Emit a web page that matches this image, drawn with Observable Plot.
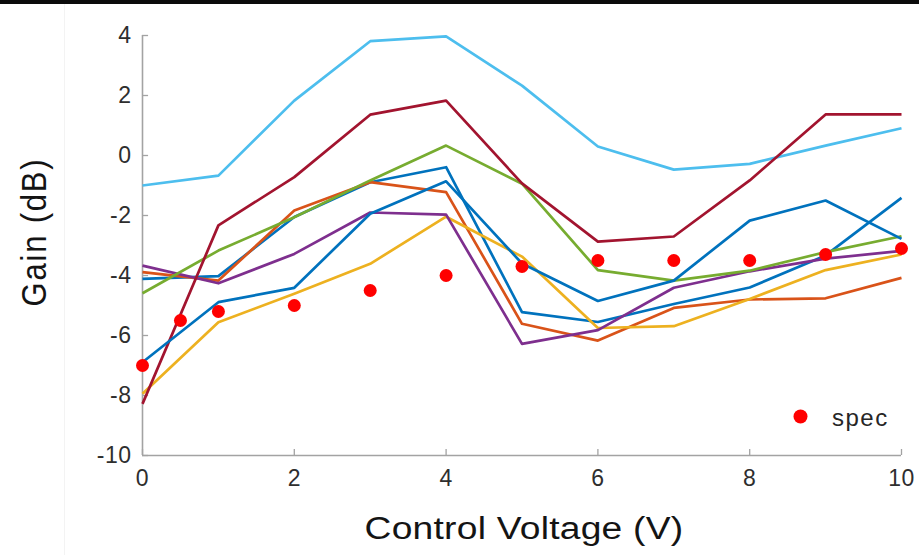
<!DOCTYPE html>
<html>
<head>
<meta charset="utf-8">
<script src="https://cdn.jsdelivr.net/npm/d3@7"></script>
<script src="https://cdn.jsdelivr.net/npm/@observablehq/plot@0.6"></script>
<style>
  html, body { margin: 0; padding: 0; background: #fff; }
  #wrap { position: relative; width: 919px; height: 555px; background: #fff; overflow: hidden;
          font-family: "Liberation Sans", Arial, Helvetica, sans-serif; }
  .lbl { position: absolute; white-space: nowrap; color: #141414; line-height: 1.12; }
</style>
</head>
<body>
<div id="wrap">
  <div style="position:absolute;left:0;top:0;width:919px;height:4px;background:#0b0b0b"></div>
  <div style="position:absolute;left:64px;top:4px;width:1px;height:551px;background:#f3f3f3"></div>
  <div id="chart" style="position:absolute;left:0;top:4px"></div>
  <div class="lbl" style="left:35px;top:232px;transform:translate(-50%,-50%) rotate(-90deg) scaleY(1.12);font-size:31px;letter-spacing:1.8px">Gain (dB)</div>
  <div class="lbl" style="left:524px;top:529px;transform:translate(-50%,-50%) scaleX(1.2);font-size:31px;letter-spacing:0.2px">Control Voltage (V)</div>
  <div id="legend" class="lbl" style="left:0;top:0;width:0;height:0"></div>
</div>
<script>
// ---- data ----
const voltage = [0, 1, 2, 3, 4, 5, 6, 7, 8, 9, 10];
const seriesColors = ["#0072BD", "#D95319", "#EDB120", "#7E2F8E", "#77AC30", "#4DBEEE", "#A2142F", "#0072BD"];
const blueA     = [-4.11, -4.02, -2.05, -0.89, -0.39, -5.22, -5.55, -4.95, -4.40, -3.33, -1.41];
const orange    = [-3.89, -4.17, -1.83, -0.89, -1.22, -5.61, -6.17, -5.08, -4.80, -4.76, -4.08];
const yellow    = [-7.94, -5.56, -4.61, -3.61, -2.04, -3.37, -5.75, -5.69, -4.78, -3.82, -3.30];
const purple    = [-3.67, -4.26, -3.28, -1.90, -1.97, -6.28, -5.82, -4.41, -3.86, -3.44, -3.18];
const green     = [-4.59, -3.17, -2.06, -0.83, 0.33, -0.94, -3.82, -4.17, -3.84, -3.22, -2.69];
const lightBlue = [-1.00, -0.67, 1.83, 3.81, 3.97, 2.33, 0.30, -0.47, -0.28, 0.33, 0.91];
const darkRed   = [-8.28, -2.33, -0.72, 1.36, 1.83, -0.93, -2.87, -2.70, -0.83, 1.37, 1.37];
const blueB     = [-6.89, -4.89, -4.41, -1.94, -0.86, -3.60, -4.85, -4.17, -2.17, -1.50, -2.78];
const seriesList = [blueA, orange, yellow, purple, green, lightBlue, darkRed, blueB];

const specVoltage = [0, 0.5, 1, 2, 3, 4, 5, 6, 7, 8, 9, 10];
const specGain    = [-7.0, -5.5, -5.2, -5.0, -4.5, -4.0, -3.7, -3.5, -3.5, -3.5, -3.3, -3.1];
const specLabel = "spec";

const xTicks = [0, 2, 4, 6, 8, 10];
const yTicks = [-10, -8, -6, -4, -2, 0, 2, 4];

// ---- tables ----
const rows = seriesList.flatMap((vals, i) => vals.map((g, j) => ({v: voltage[j], g, s: i, c: seriesColors[i]})));
const spec = specVoltage.map((v, i) => ({v, g: specGain[i]}));

const axisGray = "#a3a3a3";
const textGray = "#2e2e2e";
const font = '"Liberation Sans", Arial, Helvetica, sans-serif';

const chart = Plot.plot({
  width: 919,
  height: 551,
  marginLeft: 142,
  marginRight: 18,
  marginTop: 31,
  marginBottom: 100,
  style: {fontFamily: font, background: "transparent", overflow: "visible"},
  x: {domain: [0, 10]},
  y: {domain: [-10, 4]},
  marks: [
    Plot.ruleX([0], {stroke: axisGray, strokeWidth: 1.6}),
    Plot.ruleY([-10], {stroke: axisGray, strokeWidth: 1.6}),
    Plot.ruleX(xTicks, {y1: -10, y2: -9.8, stroke: axisGray, strokeWidth: 1.3}),
    Plot.ruleY(yTicks, {x1: 0, x2: 0.08, stroke: axisGray, strokeWidth: 1.3}),
    Plot.axisX({ticks: xTicks, tickSize: 0, tickPadding: 14, tickFormat: d => String(d),
                fontSize: 23, fill: textGray, label: null}),
    Plot.axisY({ticks: yTicks, tickSize: 0, tickPadding: 11, tickFormat: d => String(d),
                fontSize: 23, fill: textGray, label: null}),
    Plot.line(rows, {x: "v", y: "g", z: "s", stroke: "c", strokeWidth: 2.7,
                     strokeLinejoin: "round", strokeLinecap: "butt"}),
    Plot.dot(spec, {x: "v", y: "g", r: 6.5, fill: "#ff0000", stroke: "none"})
  ]
});
document.getElementById("chart").appendChild(chart);
d3.select(chart).selectAll("g[aria-label$='tick label'] text").style("letter-spacing", "0.5px");

// legend
const leg = document.getElementById("legend");
leg.innerHTML = `<svg style="position:absolute;left:793px;top:409px" width="15" height="15"><circle cx="7.5" cy="7.5" r="7" fill="#ff0000"/></svg>
<div style="position:absolute;left:832px;top:418px;transform:translateY(-50%);font-size:24px;letter-spacing:1.5px;color:#262626">${specLabel}</div>`;
</script>
</body>
</html>
